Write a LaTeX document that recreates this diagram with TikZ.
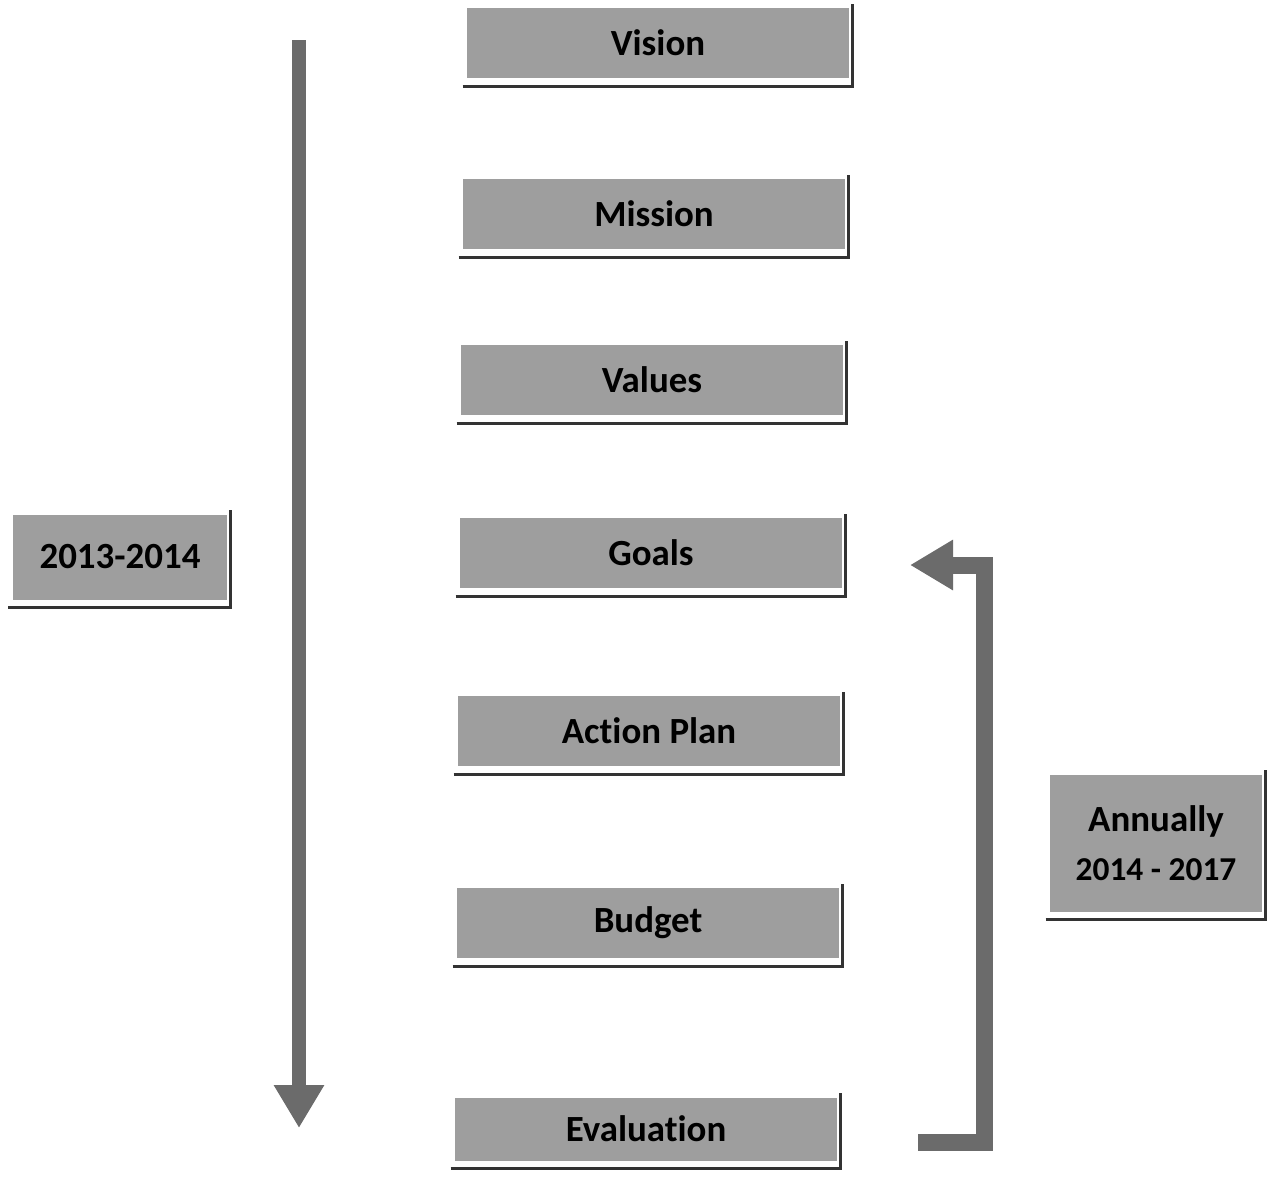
\documentclass[tikz,border=0pt]{standalone}
\usepackage{fontspec}
\setmainfont{Carlito}[Ligatures=NoCommon]
\usetikzlibrary{arrows.meta,positioning,calc}
\definecolor{boxgray}{gray}{0.62}
\definecolor{arrowgray}{gray}{0.42}

\begin{document}
\begin{tikzpicture}[x=0.02cm, y=-0.02cm,
            stage box/.style={rectangle, fill=boxgray, minimum width=7.64cm, minimum height=1.4cm,
                              font=\fontsize{21}{24}\selectfont\bfseries, text=black},
            year box/.style={stage box, minimum width=4.3cm, minimum height=1.7cm},
            shadow line/.style={draw=black!80, line width=1.6pt},
            time arrow/.style={draw=arrowgray, line width=0.28cm,
                               -{Triangle[width=0.95cm, length=0.86cm]}}]
            \useasboundingbox (0,0) rectangle (1280,1177);

            % the stages
            \node[stage box] (Vision)  at (658,43)   {Vision};
            \node[stage box] (Mission) at (654,214)  {Mission};
            \node[stage box] (Values)  at (652,380)  {Values};
            \node[stage box] (Goals)   at (651,553)  {Goals};
            \node[stage box] (Plan)    at (649,731)  {Action Plan};
            \node[stage box] (Budget)  at (648,923)  {Budget};
            \node[stage box, minimum height=1.26cm] (Eval) at (646,1129) {Evaluation};

            % the periods
            \node[year box] (First) at (120,557) {2013-2014};
            \node[year box, minimum width=4.24cm, minimum height=2.74cm, align=center,
                  font=\fontsize{21}{30}\selectfont\bfseries] (Annual) at (1156,843)
                  {Annually\\[-2pt]\fontsize{19}{22}\selectfont 2014 - 2017};

            % shadow lines under and right of each box
            \foreach \b in {Vision,Mission,Values,Goals,Plan,Budget,Eval,First,Annual}
                \draw[shadow line] ($(\b.south west)+(-4,8)$) -- ($(\b.south east)+(3,8)$)
                                   -- ($(\b.north east)+(3,-4)$);

            % time arrows
            \coordinate (DownTop) at (299,40);
            \coordinate (DownEnd) at (299,1128);
            \draw[time arrow] (DownTop) -- (DownEnd);

            \coordinate (LoopStart) at (918,1142);
            \coordinate (LoopEnd) at (910,565);
            \draw[time arrow, line width=0.34cm] (LoopStart) -- (984,1142) -- (984,565) -- (LoopEnd);
\end{tikzpicture}
\end{document}
